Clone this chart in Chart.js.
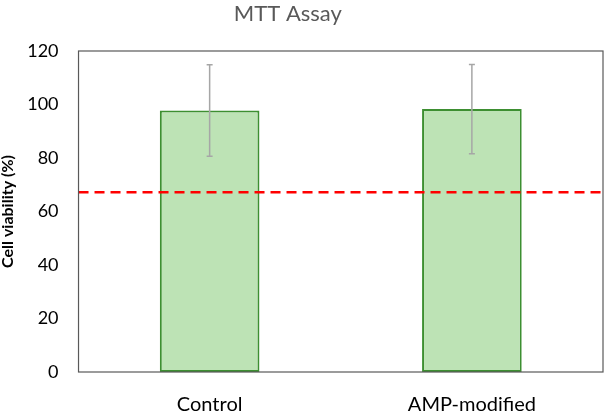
<!DOCTYPE html>
<html>
<head>
<meta charset="utf-8">
<script src="https://cdn.jsdelivr.net/npm/chart.js@4"></script>
<style>
  html, body { margin: 0; padding: 0; background: #fff; }
  #wrap { width: 606px; height: 415px; }
</style>
</head>
<body>
<div id="wrap"><canvas id="mttChart" width="606" height="415"></canvas></div>
<script>
// data
var chartTitle = 'MTT Assay';
var categories = ['Control', 'AMP-modified'];
var viability = [97.8, 98.3];
var viabilityErr = [17.1, 16.7];
var threshold = 67.2;
var yTicks = [0, 20, 40, 60, 80, 100, 120];

// title, error bars, dashed threshold and a box round the plot
var extras = {
  id: 'extras',
  afterDatasetsDraw: function (chart) {
    var c = chart.ctx;
    var area = chart.chartArea;
    var x = chart.scales.x;
    var y = chart.scales.y;

    // dashed reference line
    c.save();
    c.strokeStyle = '#ff0000';
    c.lineWidth = 2.5;
    c.setLineDash([10, 6]);
    var ty = y.getPixelForValue(threshold);
    c.beginPath();
    c.moveTo(area.left, ty);
    c.lineTo(area.right, ty);
    c.stroke();
    c.restore();

    // error bars
    c.save();
    c.strokeStyle = '#a6a6a6';
    c.lineWidth = 1.5;
    viability.forEach(function (v, i) {
      var px = x.getPixelForValue(i);
      var top = y.getPixelForValue(v + viabilityErr[i]);
      var bot = y.getPixelForValue(v - viabilityErr[i]);
      c.beginPath();
      c.moveTo(px, top);
      c.lineTo(px, bot);
      c.moveTo(px - 3, top);
      c.lineTo(px + 3, top);
      c.moveTo(px - 3, bot);
      c.lineTo(px + 3, bot);
      c.stroke();
    });
    c.restore();

    // frame
    c.save();
    c.strokeStyle = '#595959';
    c.lineWidth = 1.2;
    c.strokeRect(area.left, area.top, area.right - area.left, area.bottom - area.top);
    c.restore();

    // title (sits a bit left of centre in the original)
    c.save();
    c.fillStyle = '#595959';
    c.font = '22px Lato';
    c.textAlign = 'center';
    c.textBaseline = 'alphabetic';
    c.fillText(chartTitle, chart.width * 0.475, 21);
    c.restore();
  }
};

var ctx = document.getElementById('mttChart').getContext('2d');
var mttChart = new Chart(ctx, {
  type: 'bar',
  data: {
    labels: categories,
    datasets: [{
      label: 'Cell viability',
      data: viability,
      backgroundColor: '#bde3b5',
      borderColor: '#3d8f31',
      borderWidth: 2,
      borderSkipped: false,
      barPercentage: 0.38,
      categoryPercentage: 1
    }]
  },
  options: {
    responsive: false,
    animation: false,
    layout: {
      // tick padding is counted twice by the axes, so pull the edges back
      padding: { top: 51, right: 3, bottom: -23, left: 0 }
    },
    plugins: {
      legend: { display: false },
      tooltip: { enabled: false },
      title: { display: false }
    },
    scales: {
      y: {
        min: 0,
        max: 120,
        afterBuildTicks: function (axis) {
          axis.ticks = yTicks.map(function (v) { return { value: v }; });
        },
        grid: { display: false, drawTicks: false },
        border: { display: false },
        ticks: {
          color: '#000',
          padding: 20,
          font: { family: 'Lato', size: 18 }
        },
        title: {
          display: true,
          text: 'Cell viability (%)',
          color: '#000',
          font: { family: 'Lato', size: 16, weight: 'bold' },
          padding: { top: -2, bottom: -10 }
        }
      },
      x: {
        grid: { display: false, drawTicks: false },
        border: { display: false },
        ticks: {
          color: '#000',
          padding: 21,
          font: { family: 'Lato', size: 20 }
        }
      }
    }
  },
  plugins: [extras]
});
</script>
</body>
</html>
